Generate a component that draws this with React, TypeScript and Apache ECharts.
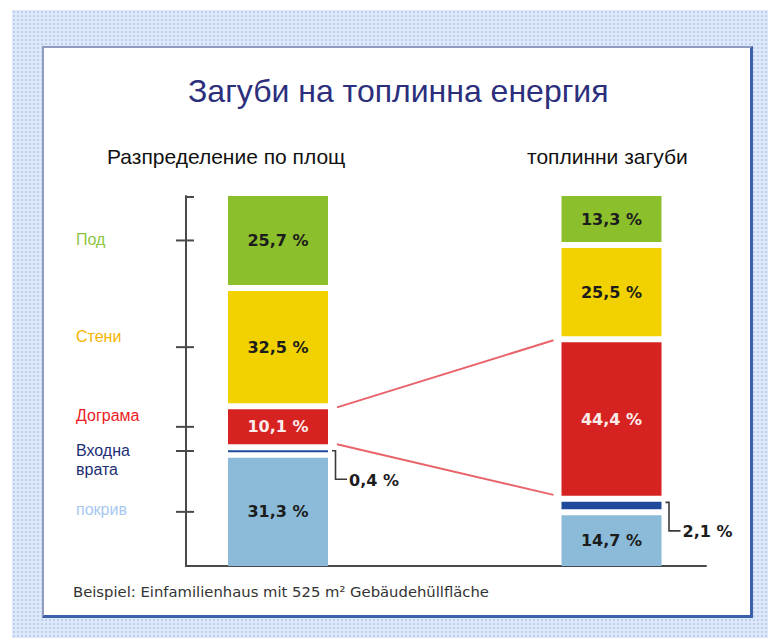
import React, { useEffect, useRef } from "react";
import * as echarts from "echarts";

// ---- data ----
const SEGMENTS = ["Под", "Стени", "Дограма", "Входна\nврата", "покрив"]; // top to bottom
const AREA_SHARE = [25.7, 32.5, 10.1, 0.4, 31.3]; // % of envelope area
const HEAT_LOSS = [13.3, 25.5, 44.4, 2.1, 14.7]; // % of heat losses
const BAR_TITLES = ["Разпределение по площ", "топлинни загуби"];
const TITLE = "Загуби на топлинна енергия";
const FOOTER = "Beispiel: Einfamilienhaus mit 525 m² Gebäudehüllfläche";

// ---- styles ----
const SEG_COLORS = ["#8cbf2c", "#f1d200", "#d62321", "#1f4a9c", "#8bbbd8"];
const LABEL_COLORS = ["#8cc63f", "#f6b400", "#ec1c24", "#1c2f74", "#a7c8ef"];
const VALUE_TEXT_COLORS = ["#1c1c1c", "#1c1c1c", "#fbecec", "#1c1c1c", "#1c1c1c"];
const LABEL_DY = [-1, -11, -11, 9, -2];
const FONT = "'Liberation Sans', Arial, Helvetica, sans-serif";
const WIDE_FONT = "'DejaVu Sans', Verdana, sans-serif";
const GAP_PX = 6;
const PLOT_H = 370;
const BAR_W = 100;
const N = SEGMENTS.length;
const GAP = (100 * GAP_PX) / (PLOT_H - (N - 1) * GAP_PX);
const YMAX = 100 + (N - 1) * GAP;

const fmt = (v: number) => v.toFixed(1).replace(".", ",") + " %";

// cumulative ranges (stacked from the bottom, with gaps)
function ranges(values: number[]) {
  const out: { s: number; e: number }[] = [];
  for (let i = 0; i < values.length; i++) {
    let below = 0;
    for (let j = i + 1; j < values.length; j++) below += values[j];
    const b = values.length - 1 - i;
    const s = below + b * GAP;
    out.push({ s, e: s + values[i] });
  }
  return out;
}

export default function App() {
  const ref = useRef<HTMLDivElement>(null);
  useEffect(() => {
    if (!ref.current) return;
    const chart = echarts.init(ref.current, null, { renderer: "svg" });
    const areaR = ranges(AREA_SHARE);
    const lossR = ranges(HEAT_LOSS);

    const barData = (barIdx: number, vals: number[], r: { s: number; e: number }[]) =>
      vals.map((v, i) => [barIdx, r[i].s, r[i].e, v, i]);

    const renderBar = (params: any, api: any) => {
      const x = api.value(0);
      const s = api.value(1);
      const e = api.value(2);
      const v = api.value(3);
      const i = api.value(4);
      const p0 = api.coord([x, s]);
      const p1 = api.coord([x, e]);
      const h = Math.max(p0[1] - p1[1], 2);
      const left = p0[0] - BAR_W / 2;
      const right = p0[0] + BAR_W / 2;
      const top = p1[1];
      const children: any[] = [
        {
          type: "rect",
          shape: { x: left, y: top, width: BAR_W, height: h },
          style: { fill: SEG_COLORS[i] },
        },
      ];
      if (v >= 5) {
        children.push({
          type: "text",
          style: {
            x: p0[0],
            y: top + h / 2,
            text: fmt(v),
            fill: VALUE_TEXT_COLORS[i],
            font: `bold 16px ${WIDE_FONT}`,
            align: "center",
            verticalAlign: "middle",
          },
        });
      } else {
        const by = top + 29;
        children.push({
          type: "polyline",
          shape: {
            points: [
              [right + 4, top + 0.5],
              [right + 7.5, top + 0.5],
              [right + 7.5, by],
              [right + 19, by],
            ],
          },
          style: { stroke: "#3a3a3a", lineWidth: 1.6, fill: "none" },
        });
        children.push({
          type: "text",
          style: {
            x: right + 21,
            y: by + 1,
            text: fmt(v),
            fill: "#1c1c1c",
            font: `bold 16px ${WIDE_FONT}`,
            align: "left",
            verticalAlign: "middle",
          },
        });
      }
      return { type: "group", children };
    };

    const renderTicks = (params: any, api: any) => {
      const mid = api.value(1);
      const i = api.value(2);
      const p = api.coord([0, mid]);
      return {
        type: "group",
        children: [
          {
            type: "line",
            shape: { x1: p[0] - 10, y1: p[1], x2: p[0] + 8, y2: p[1] },
            style: { stroke: "#4a4a4a", lineWidth: 2 },
          },
          {
            type: "text",
            style: {
              x: p[0] - 110,
              y: p[1] + LABEL_DY[i],
              text: SEGMENTS[i],
              fill: LABEL_COLORS[i],
              font: `16px ${FONT}`,
              align: "left",
              verticalAlign: "middle",
              lineHeight: 19,
            },
          },
        ],
      };
    };

    const RED = 2;
    const renderConnector = (params: any, api: any) => {
      const a0 = api.coord([0, api.value(0)]);
      const a1 = api.coord([0, api.value(1)]);
      const b0 = api.coord([1, api.value(2)]);
      const b1 = api.coord([1, api.value(3)]);
      const lx = a0[0] + BAR_W / 2 + 9;
      const rx = b0[0] - BAR_W / 2 - 8;
      return {
        type: "group",
        children: [
          {
            type: "line",
            shape: { x1: lx, y1: a1[1] - 2, x2: rx, y2: b1[1] - 2 },
            style: { stroke: "#e8636a", lineWidth: 2 },
          },
          {
            type: "line",
            shape: { x1: lx, y1: a0[1], x2: rx, y2: b0[1] - 1 },
            style: { stroke: "#e8636a", lineWidth: 2 },
          },
        ],
      };
    };

    const option: any = {
      animation: false,
      backgroundColor: "transparent",
      title: [
        {
          text: TITLE,
          left: 188,
          top: 75,
          padding: 0,
          textStyle: { fontFamily: FONT, fontSize: 32, fontWeight: "normal", color: "#2b2f7c" },
        },
        {
          text: BAR_TITLES[0],
          left: 107,
          top: 146,
          padding: 0,
          textStyle: { fontFamily: FONT, fontSize: 21, fontWeight: "normal", color: "#111" },
        },
        {
          text: BAR_TITLES[1],
          left: 527,
          top: 146,
          padding: 0,
          textStyle: { fontFamily: FONT, fontSize: 21, fontWeight: "normal", color: "#111" },
        },
        {
          text: FOOTER,
          left: 73,
          top: 584,
          padding: 0,
          textStyle: { fontFamily: WIDE_FONT, fontSize: 14.8, fontWeight: "normal", color: "#333" },
        },
      ],
      grid: [
        { left: 186, width: 520, top: 196, height: PLOT_H },
        { left: 278, width: 333.5, top: 196, height: PLOT_H },
      ],
      xAxis: [
        {
          gridIndex: 0,
          type: "value",
          min: 0,
          max: 1,
          axisLine: { show: true, lineStyle: { color: "#4a4a4a", width: 2 } },
          axisTick: { show: false },
          axisLabel: { show: false },
          splitLine: { show: false },
        },
        {
          gridIndex: 1,
          type: "category",
          boundaryGap: false,
          data: BAR_TITLES,
          axisLine: { show: false },
          axisTick: { show: false },
          axisLabel: { show: false },
        },
      ],
      yAxis: [
        {
          gridIndex: 0,
          type: "value",
          min: 0,
          max: YMAX,
          axisLine: { show: true, lineStyle: { color: "#4a4a4a", width: 2 } },
          axisTick: { show: false },
          axisLabel: { show: false },
          splitLine: { show: false },
        },
        {
          gridIndex: 1,
          type: "value",
          min: 0,
          max: YMAX,
          axisLine: { show: false },
          axisTick: { show: false },
          axisLabel: { show: false },
          splitLine: { show: false },
        },
      ],
      graphic: [
        {
          type: "line",
          shape: { x1: 185, y1: 197, x2: 194, y2: 197 },
          style: { stroke: "#4a4a4a", lineWidth: 2 },
        },
      ],
      series: [
        {
          name: "ticks",
          type: "custom",
          xAxisIndex: 0,
          yAxisIndex: 0,
          renderItem: renderTicks,
          data: areaR.map((r, i) => [0, (r.s + r.e) / 2, i]),
          silent: true,
        },
        {
          name: BAR_TITLES[0],
          type: "custom",
          xAxisIndex: 1,
          yAxisIndex: 1,
          renderItem: renderBar,
          data: barData(0, AREA_SHARE, areaR),
        },
        {
          name: BAR_TITLES[1],
          type: "custom",
          xAxisIndex: 1,
          yAxisIndex: 1,
          renderItem: renderBar,
          data: barData(1, HEAT_LOSS, lossR),
        },
        {
          name: "connector",
          type: "custom",
          xAxisIndex: 1,
          yAxisIndex: 1,
          renderItem: renderConnector,
          data: [[areaR[RED].s, areaR[RED].e, lossR[RED].s, lossR[RED].e]],
          silent: true,
        },
      ],
    };
    chart.setOption(option);
    return () => chart.dispose();
  }, []);

  return (
    <div style={{ position: "absolute", left: 0, top: 0, width: 768, height: 638, background: "#fff", overflow: "hidden" }}>
      <div
        style={{
          position: "absolute",
          left: 12,
          top: 10,
          right: 0,
          bottom: 0,
          backgroundColor: "#dde8fb",
          backgroundImage: "radial-gradient(#bfd0ef 0.8px, transparent 1.2px)",
          backgroundSize: "4px 4px",
        }}
      />
      <div
        style={{
          position: "absolute",
          left: 42,
          top: 46,
          width: 706,
          height: 567,
          background: "#fff",
          borderLeft: "2px solid #8d9cc0",
          borderTop: "2px solid #8d9cc0",
          borderRight: "3px solid #3d60ab",
          borderBottom: "3px solid #3d60ab",
        }}
      />
      <div ref={ref} style={{ position: "absolute", left: 0, top: 0, width: 768, height: 638 }} />
    </div>
  );
}
